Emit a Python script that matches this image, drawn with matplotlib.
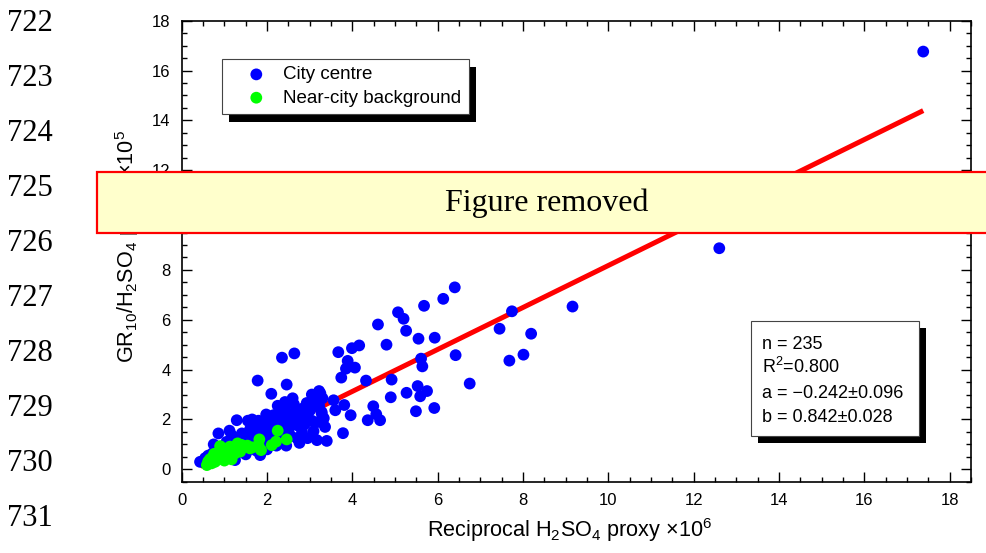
import matplotlib
matplotlib.use('Agg')
import matplotlib.pyplot as plt
import numpy as np
from matplotlib.patches import Rectangle
from matplotlib.ticker import MultipleLocator

plt.rcParams['font.family'] = ['Liberation Sans', 'DejaVu Sans']
plt.rcParams['mathtext.fontset'] = 'custom'
plt.rcParams['mathtext.rm'] = 'Liberation Sans'
plt.rcParams['mathtext.it'] = 'Liberation Sans:italic'
plt.rcParams['mathtext.bf'] = 'Liberation Sans:bold'

# --- city centre samples (reciprocal proxy x1e6, GR10/H2SO4 x1e5) ---
city_x = [17.38, 12.60, 9.16, 7.74, 7.45, 8.19, 8.01, 7.68, 6.75,
          6.40, 6.13, 5.68, 5.07, 5.20, 4.60, 5.26, 5.55, 5.93, 4.80,
          4.16, 3.99, 3.67, 6.42, 5.61, 5.64, 3.89, 3.85, 4.06, 3.74,
          4.32, 4.92, 5.53, 5.75, 5.27, 5.59, 4.90, 4.49, 5.92, 5.49,
          3.81, 3.60, 3.96, 4.36, 4.56, 4.65, 3.78, 3.40, 3.36, 3.56,
          2.64, 2.35, 1.78, 2.46, 2.10,
          3.25, 3.30, 3.22, 3.28, 3.33, 3.20,
          0.43, 0.49, 0.55, 0.62, 0.72, 0.68, 0.80, 0.86, 0.98, 1.05,
          1.10, 1.17, 1.20, 1.25, 1.29, 1.30, 1.35, 1.41, 1.45, 1.50,
          1.55, 1.55, 1.60, 1.62, 1.68, 1.70, 1.75, 1.80, 1.80, 1.84,
          1.88, 1.90, 1.95, 2.00, 2.03, 2.05, 2.07, 2.10, 2.15, 2.15,
          2.20, 2.22, 2.28, 2.30, 2.35, 2.38, 2.40, 2.42, 2.42, 2.48,
          2.50, 2.55, 2.58, 2.63, 2.65, 2.70, 2.72, 2.76, 2.80, 2.82,
          2.88, 2.93, 2.95, 3.01, 3.05, 3.09, 3.12, 3.17, 3.17, 3.22,
          3.28, 3.30,
          0.75, 0.95, 1.12, 1.40, 1.65, 1.98, 2.25, 2.60, 2.85, 3.05,
          2.95, 2.70, 2.45, 2.00, 1.58]
city_y = [16.76, 8.87, 6.53, 6.34, 5.64, 5.44, 4.60, 4.36, 3.44,
          7.30, 6.84, 6.56, 6.30, 6.04, 5.81, 5.56, 5.24, 5.28, 5.00,
          4.97, 4.86, 4.70, 4.58, 4.44, 4.13, 4.35, 4.04, 4.08, 3.68,
          3.56, 3.60, 3.34, 3.14, 3.07, 2.93, 2.89, 2.53, 2.46, 2.33,
          2.58, 2.37, 2.17, 1.97, 2.21, 1.97, 1.45, 1.14, 1.70, 2.77,
          4.65, 4.48, 3.56, 3.40, 3.03,
          3.05, 2.85, 2.55, 2.30, 2.05, 1.90,
          0.30, 0.31, 0.45, 0.55, 0.64, 0.38, 0.75, 1.44, 0.91, 1.10,
          0.75, 1.37, 1.00, 0.37, 1.97, 1.25, 0.85, 1.44, 1.10, 0.60,
          1.95, 1.30, 1.60, 0.95, 1.51, 1.20, 0.75, 1.95, 1.70, 0.57,
          1.40, 1.05, 1.75, 1.55, 1.84, 1.25, 1.51, 2.05, 2.17, 1.70,
          1.35, 0.95, 1.90, 1.55, 2.30, 1.84, 1.20, 2.70, 2.44, 2.05,
          1.60, 1.35, 2.20, 2.61, 1.90, 1.77, 2.37, 1.06, 2.10, 1.50,
          1.80, 2.66, 2.25, 2.37, 1.95, 1.53, 2.60, 2.90, 1.17, 3.14,
          2.24, 1.95,
          1.00, 0.55, 1.55, 0.70, 2.00, 2.20, 2.55, 2.85, 2.45, 3.00,
          1.25, 1.25, 0.95, 0.80, 0.80]

# --- near-city background samples ---
bg_x = [0.59, 0.62, 0.66, 0.70, 0.74, 0.78, 0.82, 0.85, 0.90, 0.92,
        0.98, 1.02, 1.06, 1.10, 1.13, 1.17, 1.20, 1.25, 1.31, 1.35,
        1.37, 1.45, 1.54, 1.60, 1.66, 1.80, 1.82, 1.86, 2.11, 2.21,
        2.25, 2.46, 0.70, 0.76, 0.88, 1.00, 1.15, 1.40, 0.65, 0.95]
bg_y = [0.17, 0.31, 0.40, 0.24, 0.51, 0.30, 0.37, 0.60, 0.93, 0.45,
        0.64, 0.80, 0.51, 0.68, 0.91, 0.40, 0.60, 0.64, 1.04, 0.82,
        0.71, 0.90, 0.95, 0.84, 0.88, 0.97, 1.20, 0.77, 0.97, 1.11,
        1.55, 1.20, 0.45, 0.62, 0.72, 0.35, 0.55, 0.98, 0.28, 0.85]

# regression summary
n_obs = 235
r_squared = 0.800
fit_a, fit_a_err = -0.242, 0.096
fit_b, fit_b_err = 0.842, 0.028

line_numbers = list(range(722, 732))

fig = plt.figure(figsize=(9.87, 5.53), dpi=100)
ax = fig.add_axes([0.1841, 0.1288, 0.7997, 0.8338])

all_x = np.array(city_x + bg_x)
xs = np.array([all_x.min(), all_x.max()])
ax.plot(xs, fit_a + fit_b * xs, color='#ff0000', lw=3.6, zorder=2,
        solid_capstyle='butt')
ax.scatter(city_x, city_y, s=72, color='#0000ff', edgecolors='none',
           zorder=3, label='City centre')
ax.scatter(bg_x, bg_y, s=72, color='#00ff00', edgecolors='none',
           zorder=4, label='Near-city background')

ax.set_xlim(0, 18.5)
ax.set_ylim(-0.5, 18)
ax.set_xticks(np.arange(0, 19, 2))
ax.set_yticks(np.arange(0, 19, 2))
ax.xaxis.set_minor_locator(MultipleLocator(0.5))
ax.yaxis.set_minor_locator(MultipleLocator(0.5))
ax.tick_params(which='both', direction='in', top=True, right=True,
               width=1.0, labelsize=12, pad=8)
ax.tick_params(which='major', length=7)
ax.tick_params(which='minor', length=3.6)
for sp in ax.spines.values():
    sp.set_linewidth(1.2)

ax.set_xlabel('Reciprocal H$_2$SO$_4$ proxy \u00d710$^6$', fontsize=15.6,
              labelpad=10)
ax.xaxis.set_label_coords(0.4907, -0.075, transform=ax.transAxes)
ax.xaxis.label.set_va('top')
ax.set_ylabel('GR$_{10}$/H$_2$SO$_4$ proxy \u00d710$^5$', fontsize=15.6)
ax.yaxis.set_label_coords(-0.052, 0.51)

leg = ax.legend(loc='upper left', bbox_to_anchor=(0.0514, 0.9176),
                borderaxespad=0, fancybox=False, framealpha=1,
                edgecolor='#444444', fontsize=13.5, borderpad=0.4,
                handlelength=2.83, handletextpad=0.03, labelspacing=0.33,
                scatterpoints=1)
leg.get_frame().set_linewidth(0.8)

# black drop shadow behind the legend frame
fig.canvas.draw()
bb = leg.get_frame().get_window_extent()
inv = fig.transFigure.inverted()
(x0, y0), (x1, y1) = inv.transform([[bb.x0 + 7, bb.y0 - 8],
                                    [bb.x1 + 7, bb.y1 - 8]])
ax.add_patch(Rectangle((x0, y0), x1 - x0, y1 - y0, transform=fig.transFigure,
                       facecolor='black', edgecolor='none', zorder=4.5,
                       clip_on=False))

# fit statistics box
bx0, bx1, by0, by1 = 0.7209, 0.9345, 0.1000, 0.3487
ax.add_patch(Rectangle((bx0 + 0.0089, by0 - 0.0152), bx1 - bx0, by1 - by0,
                       transform=ax.transAxes, facecolor='black',
                       edgecolor='none', zorder=5))
ax.add_patch(Rectangle((bx0, by0), bx1 - bx0, by1 - by0,
                       transform=ax.transAxes, facecolor='white',
                       edgecolor='#444444', lw=0.8, zorder=6))
stats = [f'n = {n_obs}',
         f'R$^2$={r_squared:.3f}',
         f'a = {fit_a:.3f}\u00b1{fit_a_err:.3f}'.replace('-', '\u2212'),
         f'b = {fit_b:.3f}\u00b1{fit_b_err:.3f}']
for txt, yb in zip(stats, [0.2882, 0.2351, 0.1819, 0.1288]):
    ax.text(0.7348, yb, txt, transform=ax.transAxes, fontsize=13,
            va='baseline', ha='left', zorder=7)

# manuscript line numbers
for i, num in enumerate(line_numbers):
    fig.text(0.0537, 1 - (30.6 + 55.1 * i) / 553, str(num), ha='right',
             va='baseline', family='Liberation Serif', fontsize=22)

# removal banner
fig.add_artist(Rectangle((0.098, 0.578), 0.91, 0.1114,
                         transform=fig.transFigure, facecolor='#ffffcc',
                         edgecolor='#ff0000', lw=1.6, zorder=10))
fig.text(0.5537, 0.619, 'Figure removed', ha='center', va='baseline',
         family='Liberation Serif', fontsize=23, zorder=11)

fig.savefig('out.png', dpi=100)
